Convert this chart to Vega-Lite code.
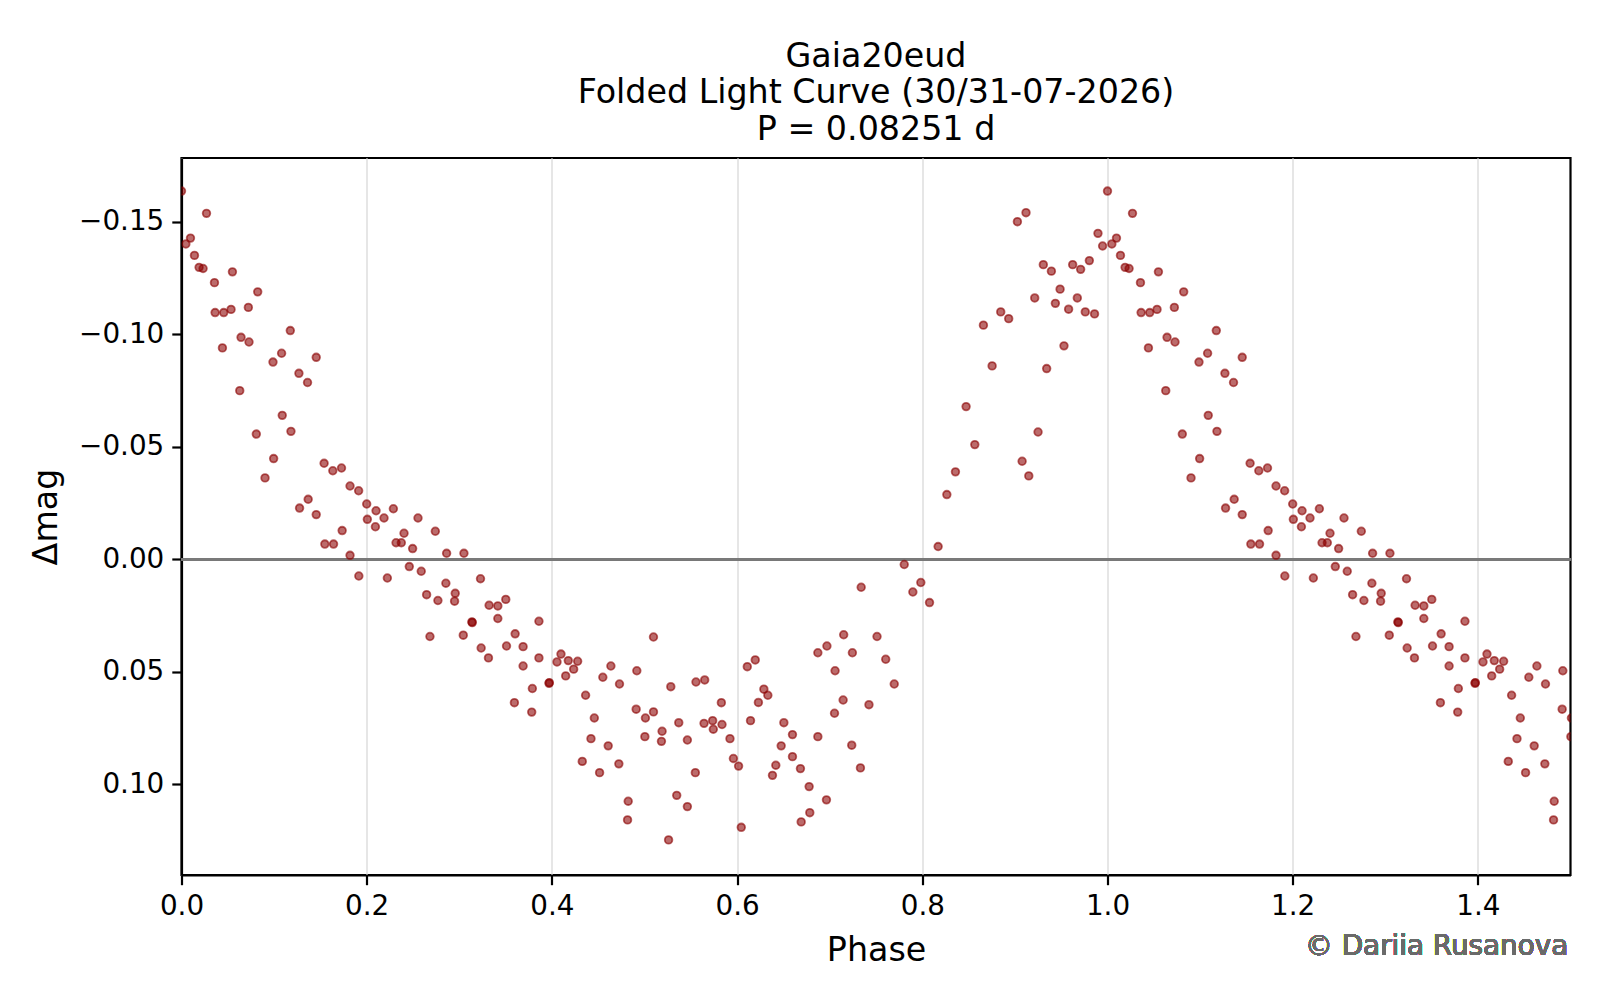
{
  "$schema": "https://vega.github.io/schema/vega-lite/v6.json",
  "description": "Folded light curve of Gaia20eud",
  "width": 1389,
  "height": 717,
  "autosize": {"type": "none"},
  "padding": {"left": 181.5, "top": 158, "right": 29.5, "bottom": 125},
  "background": "white",
  "title": {
    "text": ["Gaia20eud", "Folded Light Curve (30/31-07-2026)", "P = 0.08251 d"],
    "anchor": "middle",
    "frame": "group",
    "fontSize": 33.3,
    "fontWeight": "normal",
    "font": "DejaVu Sans",
    "color": "black",
    "lineHeight": 36.5,
    "offset": 11
  },
  "data": {
    "values": [
      {"phase": 0.0, "dmag": -0.1636}, {"phase": 0.027, "dmag": -0.1537}, {"phase": 0.0097, "dmag": -0.1427}, {"phase": 0.0047, "dmag": -0.1401},
      {"phase": 0.014, "dmag": -0.135}, {"phase": 0.019, "dmag": -0.1297}, {"phase": 0.0233, "dmag": -0.1292}, {"phase": 0.0356, "dmag": -0.1229},
      {"phase": 0.055, "dmag": -0.1277}, {"phase": 0.0363, "dmag": -0.1096}, {"phase": 0.0456, "dmag": -0.1096}, {"phase": 0.0535, "dmag": -0.111},
      {"phase": 0.0722, "dmag": -0.1119}, {"phase": 0.0823, "dmag": -0.1188}, {"phase": 0.0643, "dmag": -0.0986}, {"phase": 0.0729, "dmag": -0.0965},
      {"phase": 0.0442, "dmag": -0.0939}, {"phase": 0.1175, "dmag": -0.1016}, {"phase": 0.1081, "dmag": -0.0915}, {"phase": 0.0988, "dmag": -0.0876},
      {"phase": 0.1455, "dmag": -0.0897}, {"phase": 0.1268, "dmag": -0.0826}, {"phase": 0.1361, "dmag": -0.0785}, {"phase": 0.0629, "dmag": -0.0749},
      {"phase": 0.1088, "dmag": -0.0639}, {"phase": 0.1182, "dmag": -0.0568}, {"phase": 0.0808, "dmag": -0.0556}, {"phase": 0.0995, "dmag": -0.0447},
      {"phase": 0.154, "dmag": -0.0426}, {"phase": 0.1634, "dmag": -0.0393}, {"phase": 0.1728, "dmag": -0.0405}, {"phase": 0.0902, "dmag": -0.0361},
      {"phase": 0.1275, "dmag": -0.0227}, {"phase": 0.1368, "dmag": -0.0266}, {"phase": 0.1455, "dmag": -0.0198}, {"phase": 0.182, "dmag": -0.0325},
      {"phase": 0.1913, "dmag": -0.0304}, {"phase": 0.2, "dmag": -0.0245}, {"phase": 0.2101, "dmag": -0.0215}, {"phase": 0.2288, "dmag": -0.0224},
      {"phase": 0.2007, "dmag": -0.0177}, {"phase": 0.2187, "dmag": -0.0183}, {"phase": 0.2094, "dmag": -0.0144}, {"phase": 0.1735, "dmag": -0.0127},
      {"phase": 0.1548, "dmag": -0.0067}, {"phase": 0.1642, "dmag": -0.0067}, {"phase": 0.182, "dmag": -0.0017}, {"phase": 0.1915, "dmag": 0.0075},
      {"phase": 0.2554, "dmag": -0.0183}, {"phase": 0.2403, "dmag": -0.0115}, {"phase": 0.2317, "dmag": -0.0073}, {"phase": 0.2374, "dmag": -0.0073},
      {"phase": 0.2496, "dmag": -0.0047}, {"phase": 0.2741, "dmag": -0.0124}, {"phase": 0.2863, "dmag": -0.0026}, {"phase": 0.305, "dmag": -0.0026},
      {"phase": 0.2223, "dmag": 0.0084}, {"phase": 0.246, "dmag": 0.0033}, {"phase": 0.2589, "dmag": 0.0054}, {"phase": 0.2855, "dmag": 0.0107},
      {"phase": 0.3229, "dmag": 0.0087}, {"phase": 0.2647, "dmag": 0.0158}, {"phase": 0.2769, "dmag": 0.0184}, {"phase": 0.2956, "dmag": 0.0152},
      {"phase": 0.2949, "dmag": 0.0187}, {"phase": 0.3322, "dmag": 0.0205}, {"phase": 0.3416, "dmag": 0.0208}, {"phase": 0.3502, "dmag": 0.0179},
      {"phase": 0.3416, "dmag": 0.0264}, {"phase": 0.3136, "dmag": 0.0279}, {"phase": 0.314, "dmag": 0.0282}, {"phase": 0.2683, "dmag": 0.0344},
      {"phase": 0.3043, "dmag": 0.0338}, {"phase": 0.3603, "dmag": 0.0332}, {"phase": 0.3236, "dmag": 0.0395}, {"phase": 0.3315, "dmag": 0.0439},
      {"phase": 0.351, "dmag": 0.0386}, {"phase": 0.3689, "dmag": 0.0389}, {"phase": 0.386, "dmag": 0.0276}, {"phase": 0.386, "dmag": 0.0439},
      {"phase": 0.3689, "dmag": 0.0475}, {"phase": 0.3789, "dmag": 0.0575}, {"phase": 0.3595, "dmag": 0.0638}, {"phase": 0.3782, "dmag": 0.068},
      {"phase": 0.3969, "dmag": 0.0552}, {"phase": 0.3972, "dmag": 0.0549}, {"phase": 0.4098, "dmag": 0.0422}, {"phase": 0.4055, "dmag": 0.0457},
      {"phase": 0.4177, "dmag": 0.0451}, {"phase": 0.4278, "dmag": 0.0454}, {"phase": 0.4235, "dmag": 0.0489}, {"phase": 0.4149, "dmag": 0.0519},
      {"phase": 0.4364, "dmag": 0.0605}, {"phase": 0.455, "dmag": 0.0525}, {"phase": 0.4637, "dmag": 0.0475}, {"phase": 0.473, "dmag": 0.0555},
      {"phase": 0.4917, "dmag": 0.0496}, {"phase": 0.5097, "dmag": 0.0346}, {"phase": 0.5284, "dmag": 0.0567}, {"phase": 0.537, "dmag": 0.0727},
      {"phase": 0.4458, "dmag": 0.0706}, {"phase": 0.4422, "dmag": 0.0798}, {"phase": 0.4608, "dmag": 0.083}, {"phase": 0.4328, "dmag": 0.0899},
      {"phase": 0.4515, "dmag": 0.0949}, {"phase": 0.4723, "dmag": 0.091}, {"phase": 0.491, "dmag": 0.0667}, {"phase": 0.501, "dmag": 0.0706},
      {"phase": 0.5097, "dmag": 0.0679}, {"phase": 0.519, "dmag": 0.0765}, {"phase": 0.5183, "dmag": 0.081}, {"phase": 0.5004, "dmag": 0.0789},
      {"phase": 0.4824, "dmag": 0.1076}, {"phase": 0.4817, "dmag": 0.1159}, {"phase": 0.5348, "dmag": 0.105}, {"phase": 0.526, "dmag": 0.1248},
      {"phase": 0.5463, "dmag": 0.0804}, {"phase": 0.5556, "dmag": 0.0546}, {"phase": 0.565, "dmag": 0.0537}, {"phase": 0.5549, "dmag": 0.0949},
      {"phase": 0.5463, "dmag": 0.11}, {"phase": 0.5643, "dmag": 0.073}, {"phase": 0.5736, "dmag": 0.0718}, {"phase": 0.5743, "dmag": 0.0756},
      {"phase": 0.5837, "dmag": 0.0735}, {"phase": 0.583, "dmag": 0.0638}, {"phase": 0.5923, "dmag": 0.0798}, {"phase": 0.596, "dmag": 0.0886},
      {"phase": 0.6016, "dmag": 0.092}, {"phase": 0.6045, "dmag": 0.1192}, {"phase": 0.611, "dmag": 0.0478}, {"phase": 0.6196, "dmag": 0.0448},
      {"phase": 0.6289, "dmag": 0.0578}, {"phase": 0.6332, "dmag": 0.0605}, {"phase": 0.623, "dmag": 0.0637}, {"phase": 0.6145, "dmag": 0.0718},
      {"phase": 0.6505, "dmag": 0.0727}, {"phase": 0.6598, "dmag": 0.078}, {"phase": 0.6476, "dmag": 0.083}, {"phase": 0.6598, "dmag": 0.0878},
      {"phase": 0.6418, "dmag": 0.0916}, {"phase": 0.6382, "dmag": 0.0961}, {"phase": 0.6684, "dmag": 0.0931}, {"phase": 0.6778, "dmag": 0.1011},
      {"phase": 0.6785, "dmag": 0.1127}, {"phase": 0.6692, "dmag": 0.1168}, {"phase": 0.6965, "dmag": 0.107}, {"phase": 0.6872, "dmag": 0.0789},
      {"phase": 0.6872, "dmag": 0.0416}, {"phase": 0.697, "dmag": 0.0386}, {"phase": 0.7151, "dmag": 0.0336}, {"phase": 0.7245, "dmag": 0.0416},
      {"phase": 0.7058, "dmag": 0.0496}, {"phase": 0.7511, "dmag": 0.0344}, {"phase": 0.7605, "dmag": 0.0445}, {"phase": 0.7697, "dmag": 0.0555},
      {"phase": 0.7145, "dmag": 0.0626}, {"phase": 0.7052, "dmag": 0.0685}, {"phase": 0.7424, "dmag": 0.0647}, {"phase": 0.7238, "dmag": 0.0827},
      {"phase": 0.7332, "dmag": 0.0928}, {"phase": 0.734, "dmag": 0.0125}, {"phase": 0.8473, "dmag": -0.0678}, {"phase": 0.8567, "dmag": -0.0509},
      {"phase": 0.8358, "dmag": -0.0388}, {"phase": 0.8265, "dmag": -0.0287}, {"phase": 0.8171, "dmag": -0.0056}, {"phase": 0.7805, "dmag": 0.0024},
      {"phase": 0.7984, "dmag": 0.0104}, {"phase": 0.7898, "dmag": 0.0146}, {"phase": 0.8078, "dmag": 0.0193}, {"phase": 0.912, "dmag": -0.154},
      {"phase": 0.9027, "dmag": -0.15}, {"phase": 0.9897, "dmag": -0.1448}, {"phase": 0.9947, "dmag": -0.1392}, {"phase": 0.9307, "dmag": -0.1309},
      {"phase": 0.9394, "dmag": -0.128}, {"phase": 0.9624, "dmag": -0.1309}, {"phase": 0.971, "dmag": -0.1288}, {"phase": 0.9804, "dmag": -0.1327},
      {"phase": 0.9488, "dmag": -0.12}, {"phase": 0.9214, "dmag": -0.1161}, {"phase": 0.9437, "dmag": -0.1137}, {"phase": 0.9674, "dmag": -0.1161},
      {"phase": 0.958, "dmag": -0.1111}, {"phase": 0.976, "dmag": -0.1099}, {"phase": 0.986, "dmag": -0.109}, {"phase": 0.8847, "dmag": -0.1099},
      {"phase": 0.8933, "dmag": -0.1069}, {"phase": 0.866, "dmag": -0.104}, {"phase": 0.953, "dmag": -0.0948}, {"phase": 0.8754, "dmag": -0.0859},
      {"phase": 0.9343, "dmag": -0.0847}, {"phase": 0.925, "dmag": -0.0565}, {"phase": 0.9078, "dmag": -0.0435}, {"phase": 0.915, "dmag": -0.037},

      {"phase": 1.0, "dmag": -0.1636}, {"phase": 1.027, "dmag": -0.1537}, {"phase": 1.0097, "dmag": -0.1427}, {"phase": 1.0047, "dmag": -0.1401},
      {"phase": 1.014, "dmag": -0.135}, {"phase": 1.019, "dmag": -0.1297}, {"phase": 1.0233, "dmag": -0.1292}, {"phase": 1.0356, "dmag": -0.1229},
      {"phase": 1.055, "dmag": -0.1277}, {"phase": 1.0363, "dmag": -0.1096}, {"phase": 1.0456, "dmag": -0.1096}, {"phase": 1.0535, "dmag": -0.111},
      {"phase": 1.0722, "dmag": -0.1119}, {"phase": 1.0823, "dmag": -0.1188}, {"phase": 1.0643, "dmag": -0.0986}, {"phase": 1.0729, "dmag": -0.0965},
      {"phase": 1.0442, "dmag": -0.0939}, {"phase": 1.1175, "dmag": -0.1016}, {"phase": 1.1081, "dmag": -0.0915}, {"phase": 1.0988, "dmag": -0.0876},
      {"phase": 1.1455, "dmag": -0.0897}, {"phase": 1.1268, "dmag": -0.0826}, {"phase": 1.1361, "dmag": -0.0785}, {"phase": 1.0629, "dmag": -0.0749},
      {"phase": 1.1088, "dmag": -0.0639}, {"phase": 1.1182, "dmag": -0.0568}, {"phase": 1.0808, "dmag": -0.0556}, {"phase": 1.0995, "dmag": -0.0447},
      {"phase": 1.154, "dmag": -0.0426}, {"phase": 1.1634, "dmag": -0.0393}, {"phase": 1.1728, "dmag": -0.0405}, {"phase": 1.0902, "dmag": -0.0361},
      {"phase": 1.1275, "dmag": -0.0227}, {"phase": 1.1368, "dmag": -0.0266}, {"phase": 1.1455, "dmag": -0.0198}, {"phase": 1.182, "dmag": -0.0325},
      {"phase": 1.1913, "dmag": -0.0304}, {"phase": 1.2, "dmag": -0.0245}, {"phase": 1.2101, "dmag": -0.0215}, {"phase": 1.2288, "dmag": -0.0224},
      {"phase": 1.2007, "dmag": -0.0177}, {"phase": 1.2187, "dmag": -0.0183}, {"phase": 1.2094, "dmag": -0.0144}, {"phase": 1.1735, "dmag": -0.0127},
      {"phase": 1.1548, "dmag": -0.0067}, {"phase": 1.1642, "dmag": -0.0067}, {"phase": 1.182, "dmag": -0.0017}, {"phase": 1.1915, "dmag": 0.0075},
      {"phase": 1.2554, "dmag": -0.0183}, {"phase": 1.2403, "dmag": -0.0115}, {"phase": 1.2317, "dmag": -0.0073}, {"phase": 1.2374, "dmag": -0.0073},
      {"phase": 1.2496, "dmag": -0.0047}, {"phase": 1.2741, "dmag": -0.0124}, {"phase": 1.2863, "dmag": -0.0026}, {"phase": 1.305, "dmag": -0.0026},
      {"phase": 1.2223, "dmag": 0.0084}, {"phase": 1.246, "dmag": 0.0033}, {"phase": 1.2589, "dmag": 0.0054}, {"phase": 1.2855, "dmag": 0.0107},
      {"phase": 1.3229, "dmag": 0.0087}, {"phase": 1.2647, "dmag": 0.0158}, {"phase": 1.2769, "dmag": 0.0184}, {"phase": 1.2956, "dmag": 0.0152},
      {"phase": 1.2949, "dmag": 0.0187}, {"phase": 1.3322, "dmag": 0.0205}, {"phase": 1.3416, "dmag": 0.0208}, {"phase": 1.3502, "dmag": 0.0179},
      {"phase": 1.3416, "dmag": 0.0264}, {"phase": 1.3136, "dmag": 0.0279}, {"phase": 1.314, "dmag": 0.0282}, {"phase": 1.2683, "dmag": 0.0344},
      {"phase": 1.3043, "dmag": 0.0338}, {"phase": 1.3603, "dmag": 0.0332}, {"phase": 1.3236, "dmag": 0.0395}, {"phase": 1.3315, "dmag": 0.0439},
      {"phase": 1.351, "dmag": 0.0386}, {"phase": 1.3689, "dmag": 0.0389}, {"phase": 1.386, "dmag": 0.0276}, {"phase": 1.386, "dmag": 0.0439},
      {"phase": 1.3689, "dmag": 0.0475}, {"phase": 1.3789, "dmag": 0.0575}, {"phase": 1.3595, "dmag": 0.0638}, {"phase": 1.3782, "dmag": 0.068},
      {"phase": 1.3969, "dmag": 0.0552}, {"phase": 1.3972, "dmag": 0.0549}, {"phase": 1.4098, "dmag": 0.0422}, {"phase": 1.4055, "dmag": 0.0457},
      {"phase": 1.4177, "dmag": 0.0451}, {"phase": 1.4278, "dmag": 0.0454}, {"phase": 1.4235, "dmag": 0.0489}, {"phase": 1.4149, "dmag": 0.0519},
      {"phase": 1.4364, "dmag": 0.0605}, {"phase": 1.455, "dmag": 0.0525}, {"phase": 1.4637, "dmag": 0.0475}, {"phase": 1.473, "dmag": 0.0555},
      {"phase": 1.4917, "dmag": 0.0496}, {"phase": 1.4458, "dmag": 0.0706}, {"phase": 1.4422, "dmag": 0.0798}, {"phase": 1.4608, "dmag": 0.083},
      {"phase": 1.4328, "dmag": 0.0899}, {"phase": 1.4515, "dmag": 0.0949}, {"phase": 1.4723, "dmag": 0.091}, {"phase": 1.491, "dmag": 0.0667},
      {"phase": 1.501, "dmag": 0.0706}, {"phase": 1.5004, "dmag": 0.0789}, {"phase": 1.4824, "dmag": 0.1076}, {"phase": 1.4817, "dmag": 0.1159}
    ]
  },
  "layer": [
    {
      "mark": {"type": "rule", "color": "#7a7a7a", "strokeWidth": 2},
      "encoding": {"y": {"datum": 0, "type": "quantitative"}}
    },
    {
      "mark": {
        "type": "point",
        "shape": "circle",
        "filled": false,
        "size": 58,
        "fill": "#8b0000",
        "fillOpacity": 0.58,
        "stroke": "#8b0000",
        "strokeOpacity": 0.6,
        "strokeWidth": 1.8,
        "clip": true
      },
      "encoding": {
        "x": {
          "field": "phase",
          "type": "quantitative",
          "scale": {"domain": [0, 1.5], "nice": false, "zero": false},
          "axis": {
            "title": "Phase",
            "values": [0, 0.2, 0.4, 0.6, 0.8, 1.0, 1.2, 1.4],
            "format": ".1f",
            "titlePadding": 14
          }
        },
        "y": {
          "field": "dmag",
          "type": "quantitative",
          "scale": {"domain": [-0.1783, 0.1404], "reverse": true, "nice": false, "zero": false},
          "axis": {
            "title": "Δmag",
            "values": [-0.15, -0.1, -0.05, 0, 0.05, 0.1],
            "labelExpr": "replace(format(datum.value, '.2f'), '-', '\u2212')",
            "titlePadding": 15
          }
        }
      }
    },
    {
      "mark": {
        "type": "text",
        "text": "© Dariia Rusanova",
        "align": "right",
        "baseline": "alphabetic",
        "fontSize": 27.8,
        "font": "DejaVu Sans",
        "fill": "#6a6a6a",
        "clip": false
      },
      "encoding": {
        "x": {"datum": 1.4975, "type": "quantitative"},
        "y": {"datum": 0.176, "type": "quantitative"}
      }
    }
  ],
  "config": {
    "font": "DejaVu Sans",
    "view": {"stroke": "black", "strokeWidth": 2.2},
    "axis": {
      "labelFont": "DejaVu Sans",
      "labelFontSize": 27.8,
      "labelColor": "black",
      "titleFont": "DejaVu Sans",
      "titleFontSize": 33.3,
      "titleFontWeight": "normal",
      "titleColor": "black",
      "domainColor": "black",
      "domainWidth": 2.2,
      "tickColor": "black",
      "tickWidth": 2.2,
      "tickSize": 9.7,
      "labelPadding": 8,
      "gridColor": "#e6e6e6",
      "gridWidth": 2,
      "labelFlush": false,
      "labelOverlap": false
    }
  }
}
